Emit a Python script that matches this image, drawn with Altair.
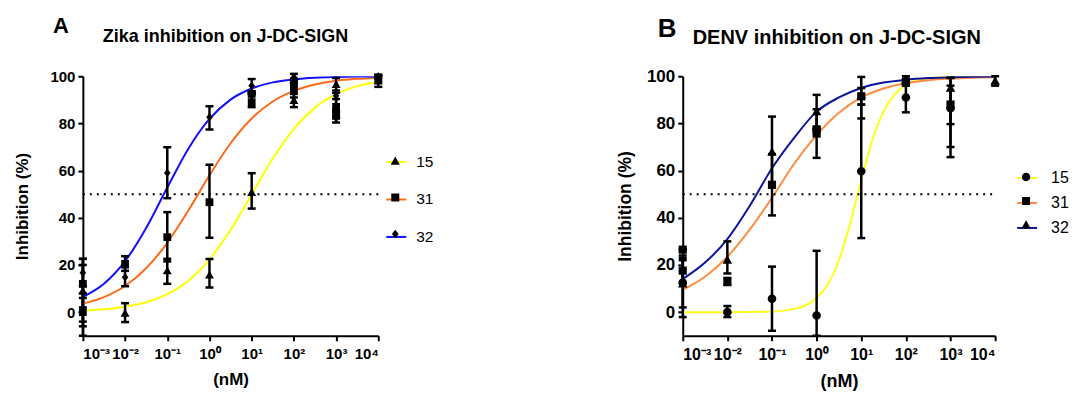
import json
import altair as alt
import pandas as pd

# ---------------- data ----------------
conc = [0.001, 0.01, 0.1, 1, 10, 100, 1000, 10000]
x_tick_labels = ["10⁻³", "10⁻²", "10⁻¹", "10⁰", "10¹", "10²", "10³", "10⁴"]
y_ticks = [0, 20, 40, 60, 80, 100]
series_names = ["15", "31", "32"]
panel_letters = ["A", "B"]
panel_titles = ["Zika inhibition on J-DC-SIGN", "DENV inhibition on J-DC-SIGN"]

# fitted curves
fit_conc = [0.001, 0.00316, 0.01, 0.0316, 0.1, 0.316, 1, 3.16, 10, 31.6, 100, 316, 1000, 3162, 10000]
a_fit_15 = [0.7, 1.2, 2.3, 4.2, 7.6, 13.3, 22.3, 34.9, 50, 65.1, 77.7, 86.7, 92.4, 95.8, 97.7]
a_fit_31 = [3.6, 6.4, 11.1, 18.6, 29.4, 43.1, 58, 71.6, 82.1, 89.3, 93.8, 96.5, 98.1, 98.9, 99.4]
a_fit_32 = [6.4, 12, 21.6, 35.7, 52.8, 69.3, 81.9, 90.1, 94.8, 97.4, 98.7, 99.4, 99.7, 99.85, 99.9]
b_fit_31 = [9.5, 15, 23.5, 35, 48.5, 63, 75, 84.5, 91, 94.8, 97, 98.3, 99, 99.4, 99.6]
b_fit_32 = [14, 21, 31, 45, 61, 74, 85, 91, 95, 97.3, 98.5, 99.2, 99.6, 99.8, 99.9]
b_fit_15_conc = [0.001, 0.01, 0.1, 0.316, 1, 1.78, 3.16, 5.62, 10, 17.8, 31.6, 56.2, 100, 316, 1000, 10000]
b_fit_15 = [0, 0, 0.3, 1.4, 6, 11.8, 22, 37.5, 56, 73, 85, 92.3, 96.2, 99.1, 99.8, 100]

# Panel A measured points (mean, lower and upper end of error bar)
a15_mean = [9, -0.5, 17.5, 15.7, 50.7, 89.7, 96.5, 98]
a15_lo = [-4, -4.2, 12, 10.5, 43.9, 86.9, 93, 95.5]
a15_hi = [22.6, 3.8, 22.6, 22.5, 58.9, 92.5, 99.2, 100]
a31_mean = [12, 20.5, 31.8, 46.6, 89, 94, 87, 99.5]
a31_lo = [2, 17.5, 21.5, 31.5, 86.9, 91, 83, 97.5]
a31_hi = [20, 23.7, 42.4, 62.5, 93, 99, 90.3, 100.5]
a32_mean = [16.7, 14.8, 59, 82.6, 96, 99.6, 91.7, 100]
a32_lo = [11, 11, 48.3, 77.4, 93.5, 98, 80.4, 99]
a32_hi = [22.6, 19, 69.9, 87.3, 98.8, 101, 94, 100.5]
a_extra_series = ["31", "32", "31", "31", "31", "32"]
a_extra_conc = [0.001, 0.001, 10, 100, 1000, 1000]
a_extra_val = [0, 0, 92.5, 97, 85, 82.2]
a_extra_lo = [-10, -6, 92.5, 97, 85, 82.2]
a_extra_hi = [8, 6, 92.5, 97, 85, 82.2]

# Panel B measured points
b15_conc = [0.001, 0.01, 0.1, 1, 10, 100, 1000]
b15_mean = [12.5, 0, 5.7, -1.4, 59.7, 91, 86.4]
b15_lo = [-2.1, -2.1, -7.9, -10, 31.4, 84.7, 65.7]
b15_hi = [24, 2.6, 19.3, 26, 88, 97, 99.3]
b31_conc = [0.001, 0.01, 0.1, 1, 10, 100, 1000]
b31_mean = [17.6, 12.9, 54, 75.7, 91.5, 97.5, 88]
b31_lo = [12, 11.5, 41, 65.4, 88, 96, 79.7]
b31_hi = [23, 14.5, 67, 86, 95, 99, 96]
b32_mean = [12, 22.1, 67.9, 85, 92, 98.6, 95, 98]
b32_lo = [2, 16.4, 53, 78, 82.1, 97, 70, 96]
b32_hi = [22, 30, 82.9, 92.1, 99.7, 100, 99.3, 100]
b_extra_series = ["31", "31"]
b_extra_conc = [0.001, 1]
b_extra_val = [26.5, 77.5]
b_extra_lo = [26.5, 77.5]
b_extra_hi = [26.5, 77.5]

# ---------------- styling ----------------
FONT = "Liberation Sans"
SQUARE = "M-0.4,-0.4H0.4V0.4H-0.4Z"
TRIANGLE = "M0,-0.46L0.46,0.36L-0.46,0.36Z"
DIAMOND = "M0,-0.42L0.34,0L0,0.42L-0.34,0Z"
CIRCLE = "M-0.42,0A0.42,0.42 0 1,0 0.42,0A0.42,0.42 0 1,0 -0.42,0Z"
shape_keys = ["s" + s for s in series_names]


def long_curves(xs_list, ys_list):
    rows = []
    for name, xs, ys in zip(series_names, xs_list, ys_list):
        for x, y in zip(xs, ys):
            rows.append({"conc": x, "val": y, "series": name})
    return pd.DataFrame(rows)


def long_points(concs, means, los, his, extra):
    rows = []
    for name, cs, m, lo, hi in zip(series_names, concs, means, los, his):
        for c, a, b, d in zip(cs, m, lo, hi):
            rows.append({"conc": c, "val": a, "lo": max(b, -10), "hi": d, "ser": "s" + name})
    for name, c, a, b, d in zip(*extra):
        rows.append({"conc": c, "val": a, "lo": max(b, -10), "hi": d, "ser": "s" + name})
    return pd.DataFrame(rows)


def panel(idx, curves, points, colors, shapes, width, height, legx, legy, rowpad, laboff,
          legfont, letter_pos, letter_size, title_pos, title_size, ylab_size, xlab_size,
          ytitle_size, xtitle_size, ytitle_pad, mark_size):
    xscale = alt.Scale(type="log", domain=[0.001, 10000])
    yscale = alt.Scale(domain=[-10, 100], nice=False, zero=False)
    xaxis = alt.Axis(values=conc, title="(nM)", labelFontSize=xlab_size, titleFontSize=xtitle_size,
                     labelExpr=json.dumps(x_tick_labels) + "[round(log(datum.value)/LN10)+3]")
    yaxis = alt.Axis(values=y_ticks, title="Inhibition (%)", labelFontSize=ylab_size,
                     titleFontSize=ytitle_size, titlePadding=ytitle_pad)
    X = lambda f: alt.X(f, type="quantitative", scale=xscale, axis=xaxis)
    Y = lambda f: alt.Y(f, type="quantitative", scale=yscale, axis=yaxis)

    line = alt.Chart(curves).mark_line(strokeWidth=2, interpolate="monotone", clip=True).encode(
        x=X("conc"), y=Y("val"),
        color=alt.Color("series:N", scale=alt.Scale(domain=series_names, range=colors),
                        legend=alt.Legend(title=None, orient="none", legendX=legx, legendY=legy,
                                          symbolType="stroke", symbolSize=400, symbolStrokeWidth=2,
                                          labelFont=FONT, labelFontSize=legfont, labelColor="black",
                                          labelOffset=laboff, rowPadding=rowpad)))
    ref = alt.Chart(pd.DataFrame({"x": [0.001], "x2": [10000], "y": [50]})).mark_rule(
        color="black", strokeWidth=2, strokeDash=[2, 5]).encode(
        x=X("x"), x2="x2", y=Y("y"))
    bars = alt.Chart(points).mark_rule(color="black", strokeWidth=2.5).encode(
        x=X("conc"), y=Y("lo"), y2="hi")
    cap_lo = alt.Chart(points).mark_tick(color="black", thickness=2.5, size=8, orient="horizontal",
                                         opacity=1).encode(x=X("conc"), y=Y("lo"))
    cap_hi = alt.Chart(points).mark_tick(color="black", thickness=2.5, size=8, orient="horizontal",
                                         opacity=1).encode(x=X("conc"), y=Y("hi"))
    pts = alt.Chart(points).mark_point(filled=True, size=mark_size, color="black", opacity=1).encode(
        x=X("conc"), y=Y("val"),
        shape=alt.Shape("ser:N", scale=alt.Scale(domain=shape_keys, range=shapes),
                        legend=alt.Legend(title=None, orient="none", legendX=legx, legendY=legy,
                                          symbolSize=400, symbolFillColor="black",
                                          symbolStrokeWidth=0, symbolOpacity=1,
                                          labelExpr="''", labelFont=FONT, labelFontSize=legfont,
                                          labelOffset=laboff, rowPadding=rowpad)))
    letter = alt.Chart(pd.DataFrame({"t": [panel_letters[idx]]})).mark_text(
        font=FONT, fontSize=letter_size, fontWeight="bold", color="black", align="left",
        baseline="alphabetic").encode(text="t:N", x=alt.value(letter_pos[0]), y=alt.value(letter_pos[1]))
    ttl = alt.Chart(pd.DataFrame({"t": [panel_titles[idx]]})).mark_text(
        font=FONT, fontSize=title_size, fontWeight="bold", color="black", align="left",
        baseline="alphabetic").encode(text="t:N", x=alt.value(title_pos[0]), y=alt.value(title_pos[1]))
    return alt.layer(line, ref, bars, cap_lo, cap_hi, pts, letter, ttl).properties(
        width=width, height=height)


curves_a = long_curves([fit_conc] * 3, [a_fit_15, a_fit_31, a_fit_32])
points_a = long_points([conc] * 3, [a15_mean, a31_mean, a32_mean], [a15_lo, a31_lo, a32_lo],
                       [a15_hi, a31_hi, a32_hi],
                       (a_extra_series, a_extra_conc, a_extra_val, a_extra_lo, a_extra_hi))
curves_b = long_curves([b_fit_15_conc, fit_conc, fit_conc], [b_fit_15, b_fit_31, b_fit_32])
points_b = long_points([b15_conc, b31_conc, conc], [b15_mean, b31_mean, b32_mean],
                       [b15_lo, b31_lo, b32_lo], [b15_hi, b31_hi, b32_hi],
                       (b_extra_series, b_extra_conc, b_extra_val, b_extra_lo, b_extra_hi))

pa = panel(0, curves_a, points_a,
           ["#FFFF00", "#FF6A1A", "#1010FF"], [TRIANGLE, SQUARE, DIAMOND],
           296, 260, 303, 75, 17.5, 9, 15.5, (-30, -43), 22, (20, -34.3), 18,
           15, 15, 17, 17, 18, 380)
pb = panel(1, curves_b, points_b,
           ["#FFFF1A", "#FF8C40", "#0A14A0"], [CIRCLE, SQUARE, TRIANGLE],
           313, 260, 334, 91, 6, 13, 16, (-25, -39), 26, (10, -32.5), 20,
           17, 16, 17.5, 18, 12, 420)

chart = alt.hconcat(pa, pb, spacing=182).resolve_scale(
    x="independent", y="independent", color="independent", shape="independent"
).resolve_legend(color="independent", shape="independent").properties(
    padding={"left": 5, "top": 7, "right": 0, "bottom": 0}
).configure_view(stroke=None).configure_axis(
    grid=False, domainColor="black", domainWidth=2, tickColor="black", tickWidth=2,
    tickSize=5, labelFont=FONT, labelFontWeight="bold", labelColor="black",
    labelPadding=3, titleFont=FONT, titleFontWeight="bold", titleColor="black"
).configure_axisX(labelPadding=6, titlePadding=10)

chart.save("out.html", embed_options={"renderer": "svg", "actions": False})
